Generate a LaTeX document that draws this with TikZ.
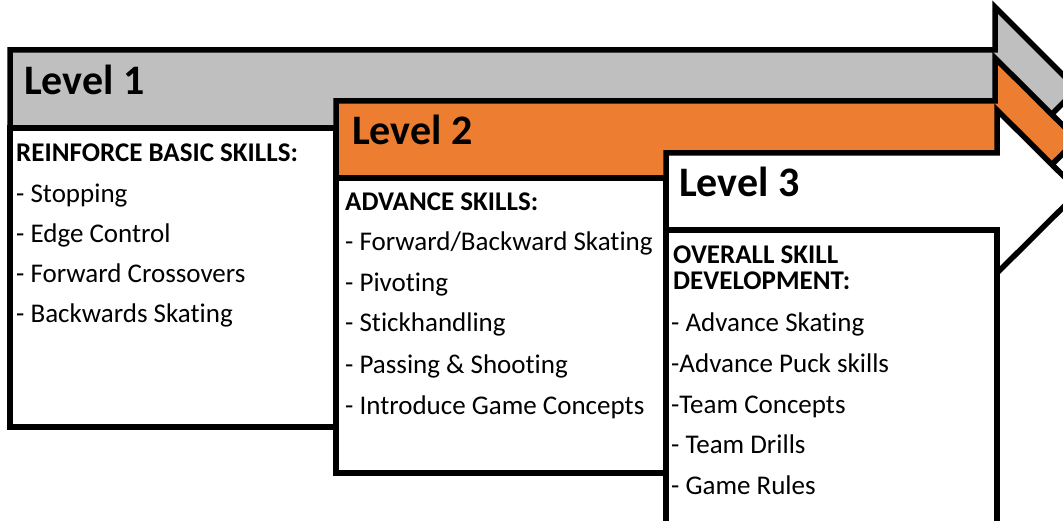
\documentclass[tikz,border=0pt]{standalone}
\usepackage{fontspec}
\setmainfont{Carlito}[Ligatures=NoCommon]
\usepackage{tikz}
\definecolor{levelgray}{RGB}{191,191,191}
\definecolor{levelorange}{RGB}{237,125,49}

\begin{document}
\begin{tikzpicture}[x=1pt,y=-1pt,
        levelshape/.style={draw=black, line width=5.5pt, line join=miter},
        item/.style={anchor=base west, inner sep=0pt, font=\fontsize{27}{30}\selectfont},
        itemhead/.style={item, font=\fontsize{27}{30}\selectfont\bfseries},
        levelhead/.style={anchor=base west, inner sep=0pt, font=\fontsize{42}{48}\selectfont\bfseries}]
        \useasboundingbox (0,0) rectangle (1063,521);
        \clip (0,0) rectangle (1063,521);

        % level 1
        \filldraw [levelshape, fill=levelgray] (10,50) -- (995,50) -- (995,7) -- (1077,89) -- (995,171) -- (995,128) -- (10,128) -- cycle;
        \filldraw [levelshape, fill=white] (10,128) rectangle (336,427);
        \node [levelhead] (head1) at (24,95) {Level 1};
        \node [itemhead] (title1) at (16,162) {REINFORCE BASIC SKILLS:};
        \node [item] (stop) at (16,203) {- Stopping};
        \node [item] (edge) at (16,243) {- Edge Control};
        \node [item] (cross) at (16,283) {- Forward Crossovers};
        \node [item] (back) at (16,323) {- Backwards Skating};

        % level 2
        \filldraw [levelshape, fill=levelorange] (336,101) -- (995,101) -- (995,58) -- (1077,139.5) -- (995,221) -- (995,178) -- (336,178) -- cycle;
        \filldraw [levelshape, fill=white] (336,178) rectangle (666,473);
        \node [levelhead] (head2) at (352,145) {Level 2};
        \node [itemhead] (title2) at (345,211) {ADVANCE SKILLS:};
        \node [item] (fwdback) at (345,251) {- Forward/Backward Skating};
        \node [item] (pivot) at (345,292) {- Pivoting};
        \node [item] (stick) at (345,332) {- Stickhandling};
        \node [item] (pass) at (345,373) {- Passing \& Shooting};
        \node [item] (game) at (345,414) {- Introduce Game Concepts};

        % level 3
        \filldraw [levelshape, fill=white] (666,153) -- (997,153) -- (997,110) -- (1079,191.5) -- (997,273) -- (997,230) -- (666,230) -- cycle;
        \filldraw [levelshape, fill=white] (666,230) rectangle (997,560);
        \node [levelhead] (head3) at (679,197) {Level 3};
        \node [itemhead] (title3a) at (673,264) {OVERALL SKILL};
        \node [itemhead] (title3b) at (673,290) {DEVELOPMENT:};
        \node [item] (skate) at (671,331) {- Advance Skating};
        \node [item] (puck) at (671,372) {-Advance Puck skills};
        \node [item] (team) at (671,413) {-Team Concepts};
        \node [item] (drills) at (671,453) {- Team Drills};
        \node [item] (rules) at (671,494) {- Game Rules};
\end{tikzpicture}
\end{document}
